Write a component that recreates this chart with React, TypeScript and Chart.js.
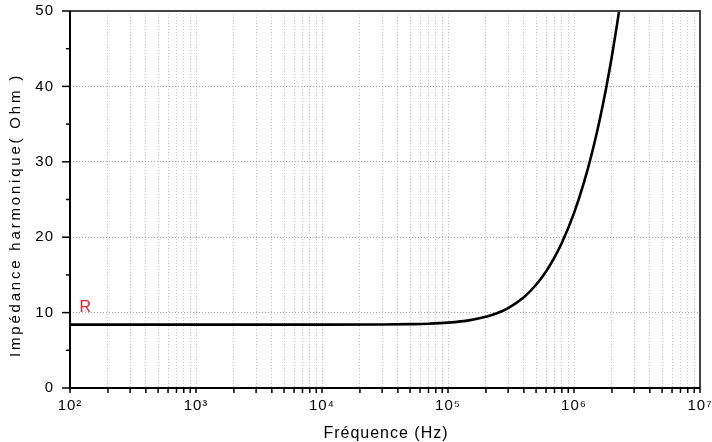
import React, { useEffect, useRef } from "react";
import { Chart, registerables } from "chart.js";

Chart.register(...registerables);

// Data
const FREQ_HZ = [100, 1e3, 1e4, 3e4, 5e4, 7e4, 1e5, 1.5e5, 2e5, 2.5e5, 3e5, 4e5, 5e5, 6e5, 7e5, 8e5, 1e6, 1.2e6, 1.4e6, 1.6e6, 1.8e6, 2e6, 2.2e6, 2.4e6];
const IMPEDANCE_OHM = [8.4, 8.4, 8.4, 8.42, 8.47, 8.53, 8.67, 9.0, 9.45, 9.99, 10.61, 12.05, 13.69, 15.45, 17.31, 19.22, 23.19, 27.26, 31.4, 35.59, 39.8, 44.04, 48.29, 52.55];

const DECADES = [1e2, 1e3, 1e4, 1e5, 1e6, 1e7];
const DECADE_LABELS = ["10²", "10³", "10⁴", "10⁵", "10⁶", "10⁷"];
const MINOR_MULT = [2, 3, 4, 5, 6, 7, 8, 9];
const Y_MAJOR = [0, 10, 20, 30, 40, 50];
const Y_MINOR = [5, 15, 25, 35, 45];

const SERIES_LABEL = "R";
const SERIES_LABEL_POS = { x: 132, y: 10.6 };
const X_TITLE = "Fréquence (Hz)";
const Y_TITLE = "Impédance harmonique( Ohm )";

const FONT = "'Liberation Sans', Arial, sans-serif";

const X_TICKS: number[] = [];
DECADES.forEach((d, i) => {
  X_TICKS.push(d);
  if (i < DECADES.length - 1) MINOR_MULT.forEach((m) => X_TICKS.push(d * m));
});

const zeroPad = (scale: any) => {
  scale.paddingTop = 0;
  scale.paddingBottom = 0;
  scale.paddingLeft = 0;
  scale.paddingRight = 0;
};

const decor = {
  id: "decor",
  beforeDraw(chart: any) {
    (chart.ctx as any).letterSpacing = "1px";
  },
  afterDraw(chart: any) {
    const { ctx, chartArea, scales } = chart;
    const { left, right, top, bottom } = chartArea;
    const x = scales.x;
    const y = scales.y;
    (ctx as any).letterSpacing = "0px";
    ctx.save();
    ctx.strokeStyle = "#000";
    ctx.lineWidth = 1.5;
    ctx.setLineDash([]);
    X_TICKS.forEach((v) => {
      const px = x.getPixelForValue(v);
      ctx.beginPath();
      ctx.moveTo(px, bottom);
      ctx.lineTo(px, bottom + 5);
      ctx.stroke();
    });
    Y_MAJOR.forEach((v) => {
      const py = y.getPixelForValue(v);
      ctx.beginPath();
      ctx.moveTo(left - 8, py);
      ctx.lineTo(left, py);
      ctx.stroke();
    });
    Y_MINOR.forEach((v) => {
      const py = y.getPixelForValue(v);
      ctx.beginPath();
      ctx.moveTo(left - 4, py);
      ctx.lineTo(left, py);
      ctx.stroke();
    });
    // frame
    ctx.lineWidth = 2;
    ctx.strokeStyle = "#444";
    ctx.beginPath();
    ctx.moveTo(left, top);
    ctx.lineTo(right, top);
    ctx.lineTo(right, bottom);
    ctx.stroke();
    ctx.strokeStyle = "#000";
    ctx.beginPath();
    ctx.moveTo(left, top);
    ctx.lineTo(left, bottom);
    ctx.lineTo(right, bottom);
    ctx.stroke();

    // series label
    ctx.fillStyle = "#e8212b";
    ctx.font = `16px ${FONT}`;
    ctx.textAlign = "center";
    ctx.textBaseline = "middle";
    ctx.fillText(SERIES_LABEL, x.getPixelForValue(SERIES_LABEL_POS.x), y.getPixelForValue(SERIES_LABEL_POS.y));

    // x title
    ctx.fillStyle = "#000";
    ctx.font = `16px ${FONT}`;
    (ctx as any).letterSpacing = "1px";
    ctx.fillText(X_TITLE, (left + right) / 2 + 1, 434);

    // y title
    ctx.save();
    ctx.translate(16, 215);
    ctx.rotate(-Math.PI / 2);
    (ctx as any).letterSpacing = "2.8px";
    ctx.font = `15px ${FONT}`;
    ctx.fillText(Y_TITLE, 0, 0);
    ctx.restore();

    ctx.restore();
  },
};

export default function App() {
  const ref = useRef<HTMLCanvasElement | null>(null);
  useEffect(() => {
    if (!ref.current) return;
    const chart = new Chart(ref.current, {
      type: "line",
      data: {
        datasets: [
          {
            data: FREQ_HZ.map((f, i) => ({ x: f, y: IMPEDANCE_OHM[i] })),
            borderColor: "#000",
            borderWidth: 2.6,
            pointRadius: 0,
            tension: 0.4,
            cubicInterpolationMode: "monotone",
            fill: false,
          },
        ],
      },
      options: {
        animation: false,
        responsive: true,
        maintainAspectRatio: false,
        layout: { padding: { top: 11, right: 12, left: 0, bottom: 0 } },
        plugins: { legend: { display: false }, tooltip: { enabled: false } },
        scales: {
          x: {
            type: "logarithmic",
            min: 100,
            max: 1e7,
            afterBuildTicks: (scale: any) => {
              scale.ticks = X_TICKS.map((v) => ({ value: v }));
            },
            afterFit: (scale: any) => {
              scale.height = 54;
              zeroPad(scale);
            },
            ticks: {
              autoSkip: false,
              maxRotation: 0,
              padding: 9,
              color: "#000",
              font: { family: FONT, size: 15 },
              callback: (v: any) => {
                const i = DECADES.indexOf(Number(v));
                return i >= 0 ? DECADE_LABELS[i] : "";
              },
            },
            grid: { color: "rgba(150,150,150,0.55)", lineWidth: 1, drawTicks: false },
            border: { display: false, dash: [1, 2] },
          },
          y: {
            min: 0,
            max: 50,
            afterFit: (scale: any) => {
              scale.width = 70;
              zeroPad(scale);
            },
            ticks: {
              stepSize: 10,
              padding: 16,
              color: "#000",
              font: { family: FONT, size: 15 },
            },
            grid: { color: "rgba(120,120,120,0.7)", lineWidth: 1, drawTicks: false },
            border: { display: false, dash: [1, 2] },
          },
        },
      },
      plugins: [decor],
    } as any);
    return () => chart.destroy();
  }, []);
  return (
    <div style={{ position: "absolute", left: 0, top: 0, width: 712, height: 442 }}>
      <canvas ref={ref} />
    </div>
  );
}
